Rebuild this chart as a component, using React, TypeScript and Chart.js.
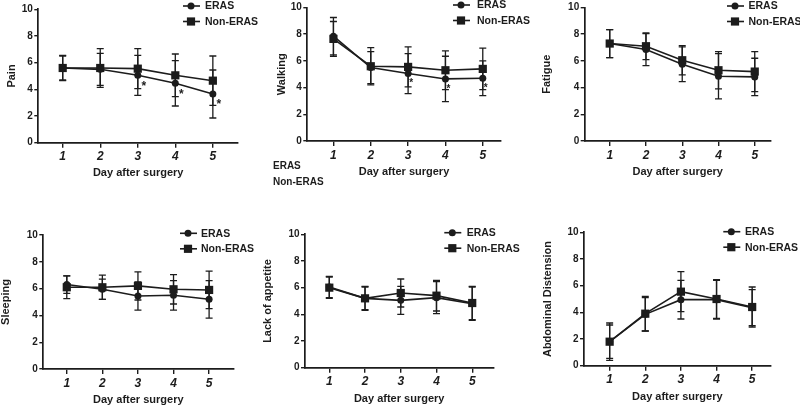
import React, { useEffect, useRef } from "react";
import { Chart, registerables } from "chart.js";

Chart.register(...registerables);

// ---------- data ----------
const days = [1, 2, 3, 4, 5];
const dayLabels = ["1", "2", "3", "4", "5"];
const yTicks = [0, 2, 4, 6, 8, 10];
const seriesNames = ["ERAS", "Non-ERAS"];
const xAxisTitle = "Day after surgery";
const strayLabels = ["ERAS", "Non-ERAS"];

const painEras = [5.6, 5.5, 5.05, 4.45, 3.65];
const painErasSd = [0.95, 1.2, 1.5, 1.7, 1.8];
const painNon = [5.6, 5.6, 5.55, 5.05, 4.65];
const painNonSd = [0.9, 1.45, 1.5, 1.6, 1.85];
const painSig = ["", "", "*", "*", "*"];

const walkEras = [7.85, 5.5, 5.05, 4.65, 4.7];
const walkErasSd = [1.4, 1.2, 1.5, 1.7, 1.3];
const walkNon = [7.65, 5.6, 5.55, 5.3, 5.4];
const walkNonSd = [1.3, 1.4, 1.5, 1.45, 1.55];
const walkSig = ["", "", "*", "*", "*"];

const fatEras = [7.3, 6.85, 5.75, 4.85, 4.8];
const fatErasSd = [1.05, 1.2, 1.3, 1.7, 1.4];
const fatNon = [7.3, 7.1, 6.05, 5.3, 5.2];
const fatNonSd = [1.05, 1.0, 1.1, 1.4, 1.5];
const fatSig = ["", "", "", "", ""];

const sleepEras = [6.3, 5.95, 5.45, 5.5, 5.2];
const sleepErasSd = [0.65, 0.75, 1.05, 1.1, 1.4];
const sleepNon = [6.1, 6.1, 6.2, 5.95, 5.9];
const sleepNonSd = [0.85, 0.9, 1.05, 1.1, 1.4];
const sleepSig = ["", "", "", "", ""];

const appEras = [6.05, 5.2, 5.05, 5.25, 4.8];
const appErasSd = [0.8, 0.85, 1.05, 1.2, 1.25];
const appNon = [6.0, 5.2, 5.6, 5.4, 4.85];
const appNonSd = [0.8, 0.9, 1.05, 1.15, 1.25];
const appSig = ["", "", "", "", ""];

const abdEras = [1.8, 3.85, 4.95, 4.95, 4.35];
const abdErasSd = [1.25, 1.25, 1.45, 1.45, 1.35];
const abdNon = [1.8, 3.9, 5.55, 5.0, 4.4];
const abdNonSd = [1.4, 1.3, 1.5, 1.45, 1.5];
const abdSig = ["", "", "", "", ""];

// ---------- layout (positions in page pixels) ----------
const W = 800;
const H = 406;
const INK = "#1c1c1c";
const FONT = "'Liberation Sans', Arial, Helvetica, sans-serif";

type Panel = {
  title: string;
  eras: number[]; erasSd: number[]; non: number[]; nonSd: number[]; sig: string[];
  L: number; T: number; R: number; B: number; xMin: number; xMax: number;
  yTitleX: number; xTitleY: number; legX: number; legTextX: number; legY: number;
  sigDx: number; sigDy: number; sigSize: number;
};

const panels: Panel[] = [
  { title: "Pain", eras: painEras, erasSd: painErasSd, non: painNon, nonSd: painNonSd, sig: painSig,
    L: 38.3, T: 9.3, R: 238, B: 142.7, xMin: 0.35, xMax: 5.67, yTitleX: 12.3, xTitleY: 173.3,
    legX: 183, legTextX: 205, legY: 6, sigDx: 6, sigDy: 8, sigSize: 12 },
  { title: "Walking", eras: walkEras, erasSd: walkErasSd, non: walkNon, nonSd: walkNonSd, sig: walkSig,
    L: 307.3, T: 7.3, R: 500.7, B: 141, xMin: 0.3, xMax: 5.48, yTitleX: 282.3, xTitleY: 172,
    legX: 453, legTextX: 477, legY: 5, sigDx: 3, sigDy: 7.5, sigSize: 10 },
  { title: "Fatigue", eras: fatEras, erasSd: fatErasSd, non: fatNon, nonSd: fatNonSd, sig: fatSig,
    L: 584.7, T: 7.3, R: 770.7, B: 141, xMin: 0.31, xMax: 5.44, yTitleX: 546.7, xTitleY: 172,
    legX: 727, legTextX: 748.5, legY: 6, sigDx: 0, sigDy: 0, sigSize: 10 },
  { title: "Sleeping", eras: sleepEras, erasSd: sleepErasSd, non: sleepNon, nonSd: sleepNonSd, sig: sleepSig,
    L: 43.3, T: 235, R: 233.3, B: 369, xMin: 0.34, xMax: 5.68, yTitleX: 5.5, xTitleY: 400,
    legX: 180, legTextX: 201, legY: 233.3, sigDx: 0, sigDy: 0, sigSize: 10 },
  { title: "Lack of appetite", eras: appEras, erasSd: appErasSd, non: appNon, nonSd: appNonSd, sig: appSig,
    L: 305, T: 234.3, R: 493.3, B: 367.7, xMin: 0.32, xMax: 5.59, yTitleX: 268.3, xTitleY: 399,
    legX: 444.3, legTextX: 466.7, legY: 232.7, sigDx: 0, sigDy: 0, sigSize: 10 },
  { title: "Abdominal Distension", eras: abdEras, erasSd: abdErasSd, non: abdNon, nonSd: abdNonSd, sig: abdSig,
    L: 584, T: 232.3, R: 770.7, B: 365.7, xMin: 0.28, xMax: 5.52, yTitleX: 548.3, xTitleY: 397.3,
    legX: 723.3, legTextX: 745, legY: 231.7, sigDx: 0, sigDy: 0, sigSize: 10 },
];

const TITLE_SIZE = 11;
const TITLE_LH = 1.2;
const HALF_LH = (TITLE_SIZE * TITLE_LH) / 2;

function drawMarker(ctx: CanvasRenderingContext2D, style: string, x: number, y: number) {
  ctx.beginPath();
  if (style === "circle") {
    ctx.arc(x, y, 3.5, 0, Math.PI * 2);
  } else {
    ctx.rect(x - 4.1, y - 4.1, 8.2, 8.2);
  }
  ctx.fill();
}

function buildChart(canvas: HTMLCanvasElement, p: Panel) {
  const boxLeft = Math.max(0, p.yTitleX - HALF_LH - 4);
  const yTitlePad = p.yTitleX - HALF_LH - boxLeft;
  const yAxisWidth = p.L - boxLeft;
  const boxBottom = p.xTitleY + HALF_LH + 4;
  const xAxisHeight = boxBottom - p.B;

  const groups = [
    { name: seriesNames[0], mean: p.eras, sd: p.erasSd, style: "circle" },
    { name: seriesNames[1], mean: p.non, sd: p.nonSd, style: "rect" },
  ];

  const extras = {
    id: "panelExtras",
    beforeDatasetsDraw(chart: any) {
      const ctx = chart.ctx as CanvasRenderingContext2D;
      const xs = chart.scales.x;
      const ys = chart.scales.y;
      ctx.save();
      ctx.strokeStyle = INK;
      ctx.lineWidth = 1.3;
      groups.forEach((g) => {
        days.forEach((d, j) => {
          const x = xs.getPixelForValue(d);
          const yt = ys.getPixelForValue(g.mean[j] + g.sd[j]);
          const yb = ys.getPixelForValue(g.mean[j] - g.sd[j]);
          ctx.beginPath();
          ctx.moveTo(x, yt);
          ctx.lineTo(x, yb);
          ctx.moveTo(x - 3.5, yt);
          ctx.lineTo(x + 3.5, yt);
          ctx.moveTo(x - 3.5, yb);
          ctx.lineTo(x + 3.5, yb);
          ctx.stroke();
        });
      });
      ctx.restore();
    },
    afterDraw(chart: any) {
      const ctx = chart.ctx as CanvasRenderingContext2D;
      const xs = chart.scales.x;
      const ys = chart.scales.y;
      ctx.save();
      // significance marks
      ctx.fillStyle = INK;
      ctx.font = `bold ${p.sigSize}px ${FONT}`;
      ctx.textAlign = "center";
      ctx.textBaseline = "middle";
      days.forEach((d, j) => {
        if (!p.sig[j]) return;
        const x = xs.getPixelForValue(d) + p.sigDx;
        const y = ys.getPixelForValue(p.eras[j]) + p.sigDy + p.sigSize * 0.25;
        ctx.fillText(p.sig[j], x, y);
      });
      // legend
      groups.forEach((g, i) => {
        const y = p.legY + i * 15.5;
        ctx.strokeStyle = INK;
        ctx.lineWidth = 1.6;
        ctx.beginPath();
        ctx.moveTo(p.legX, y);
        ctx.lineTo(p.legX + 17, y);
        ctx.stroke();
        ctx.fillStyle = INK;
        drawMarker(ctx, g.style, p.legX + 8, y);
        ctx.font = `bold 10.5px ${FONT}`;
        ctx.textAlign = "left";
        ctx.textBaseline = "middle";
        ctx.fillText(g.name, p.legTextX, y + 0.5);
      });
      ctx.restore();
    },
  };

  return new Chart(canvas, {
    type: "line",
    data: {
      datasets: groups.map((g) => ({
        label: g.name,
        data: days.map((d, j) => ({ x: d, y: g.mean[j] })),
        borderColor: INK,
        backgroundColor: INK,
        borderWidth: 1.6,
        pointStyle: g.style,
        pointRadius: g.style === "circle" ? 3.5 : 5.8,
        pointBackgroundColor: INK,
        pointBorderColor: INK,
        pointBorderWidth: 0,
        tension: 0,
        fill: false,
        clip: false as any,
      })),
    },
    options: {
      responsive: false,
      animation: false,
      events: [],
      layout: {
        padding: { left: boxLeft, top: p.T, right: W - p.R, bottom: H - boxBottom },
      },
      plugins: {
        legend: { display: false },
        tooltip: { enabled: false },
        title: { display: false },
      },
      scales: {
        x: {
          type: "linear",
          min: p.xMin,
          max: p.xMax,
          afterBuildTicks: (s: any) => {
            s.ticks = days.map((v) => ({ value: v }));
          },
          afterFit: (s: any) => {
            s.height = xAxisHeight;
          },
          grid: { display: true, drawOnChartArea: false, drawTicks: true, tickLength: 5, color: INK, lineWidth: 1.4 },
          border: { display: true, color: INK, width: 1.7 },
          ticks: {
            padding: 2,
            color: INK,
            font: { family: FONT, size: 12, weight: "bold", style: "italic" },
            callback: (v: any) => dayLabels[days.indexOf(Number(v))] ?? "",
            maxRotation: 0,
            autoSkip: false,
          },
          title: {
            display: true,
            text: xAxisTitle,
            color: INK,
            font: { family: FONT, size: TITLE_SIZE, weight: "bold", lineHeight: TITLE_LH },
            padding: { top: 0, bottom: 4 },
          },
        },
        y: {
          type: "linear",
          min: 0,
          max: 10,
          afterBuildTicks: (s: any) => {
            s.ticks = yTicks.map((v) => ({ value: v }));
          },
          afterFit: (s: any) => {
            s.width = yAxisWidth;
          },
          grid: { display: true, drawOnChartArea: false, drawTicks: true, tickLength: 4, color: INK, lineWidth: 1.4 },
          border: { display: true, color: INK, width: 1.7 },
          ticks: {
            padding: 1.5,
            color: INK,
            font: { family: FONT, size: 10, weight: "bold" },
            callback: (v: any) => String(v),
          },
          title: {
            display: true,
            text: p.title,
            color: INK,
            font: { family: FONT, size: TITLE_SIZE, weight: "bold", lineHeight: TITLE_LH },
            padding: { top: yTitlePad, bottom: 0 },
          },
        },
      },
    } as any,
    plugins: [extras],
  });
}

function PanelCanvas({ panel }: { panel: Panel }) {
  const ref = useRef<HTMLCanvasElement | null>(null);
  useEffect(() => {
    if (!ref.current) return;
    const chart = buildChart(ref.current, panel);
    return () => chart.destroy();
  }, [panel]);
  return (
    <canvas
      ref={ref}
      width={W}
      height={H}
      style={{ position: "absolute", left: 0, top: 0, width: W, height: H }}
    />
  );
}

export default function App() {
  return (
    <div
      style={{
        position: "fixed",
        left: 0,
        top: 0,
        width: W,
        height: H,
        background: "#ffffff",
        overflow: "hidden",
      }}
    >
      {panels.map((p) => (
        <PanelCanvas key={p.title} panel={p} />
      ))}
      {strayLabels.map((t, i) => (
        <div
          key={t}
          style={{
            position: "absolute",
            left: 273,
            top: 158.5 + i * 16,
            fontFamily: FONT,
            fontWeight: "bold",
            fontSize: 10,
            lineHeight: "14px",
            color: INK,
            whiteSpace: "nowrap",
          }}
        >
          {t}
        </div>
      ))}
    </div>
  );
}
